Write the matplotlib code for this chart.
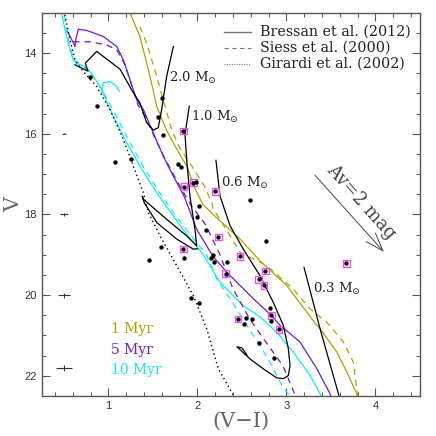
import matplotlib
matplotlib.use("Agg")
from matplotlib import pyplot as plt

# observed stars (V-I, V)
star_vi = [0.789, 0.868, 1.557, 1.598, 1.610, 1.841, 1.077, 1.253, 1.781, 1.815,
           1.849, 1.953, 1.984, 2.200, 2.017, 1.992, 2.590, 2.093, 2.234, 2.765,
           1.590, 1.841, 1.851, 1.459, 2.171, 2.150, 2.188, 2.329, 2.478, 2.317,
           2.762, 2.688, 2.745, 3.672, 1.928, 2.021, 2.453, 2.548, 2.610, 2.523,
           2.815, 2.829, 2.823, 2.914, 2.692, 2.863]
star_v = [14.60, 15.32, 15.58, 15.12, 16.03, 15.93, 16.71, 16.63, 16.74, 16.83,
          17.31, 17.21, 17.19, 17.43, 17.79, 18.06, 17.64, 18.39, 18.56, 18.65,
          18.81, 18.86, 19.08, 19.12, 19.00, 19.09, 19.19, 19.17, 19.04, 19.47,
          19.40, 19.61, 19.76, 19.21, 20.07, 20.19, 20.59, 20.56, 20.58, 20.71,
          20.32, 20.50, 20.64, 20.85, 21.18, 21.55]
# stars flagged with a square (index into the lists above)
flagged = [5, 10, 11, 13, 18, 21, 28, 29, 30, 31, 32, 33, 36, 41, 43]

# typical photometric errors
err_v = [16.0, 18.0, 20.0, 21.8]
err_vi = [0.5, 0.5, 0.5, 0.5]
err_x = [0.025, 0.045, 0.065, 0.09]
err_y = [0.01, 0.03, 0.06, 0.08]

# Bressan et al. (2012) isochrones
b1_vi = [1.22, 1.242, 1.354, 1.467, 1.542, 1.65, 1.76, 1.879, 1.97, 2.06, 2.20,
         2.478, 2.703, 3.003, 3.340, 3.377, 3.565, 3.677, 3.789, 3.81]
b1_v = [12.8, 13.01, 13.59, 14.58, 15.32, 15.90, 16.35, 16.80, 17.35, 17.75, 18.05,
        18.61, 19.15, 19.76, 20.75, 20.83, 21.41, 21.90, 22.44, 22.6]
b5_vi = [0.531, 0.60, 0.624, 0.63, 0.661, 0.756, 0.942, 1.093, 1.167, 1.242, 1.317,
         1.392, 1.504, 1.616, 1.729, 1.85, 1.992, 2.178, 2.329, 2.628, 2.834, 2.928,
         3.152, 3.340, 3.489, 3.51]
b5_v = [13.43, 13.72, 13.84, 13.7, 13.41, 13.44, 13.59, 13.84, 14.17, 14.66, 15.16,
        15.40, 15.98, 16.56, 17.05, 17.55, 18.37, 19.05, 19.43, 20.09, 20.51, 20.75,
        21.16, 21.82, 22.44, 22.6]
b10_vi = [0.46, 0.475, 0.512, 0.568, 0.605, 0.647, 0.725, 0.793, 0.871, 0.924, 1.017,
          1.205, 1.354, 1.542, 1.729, 1.879, 2.06, 2.253, 2.515, 2.703, 2.890, 3.077,
          3.265, 3.377, 3.40]
b10_v = [12.8, 13.01, 13.43, 13.92, 14.17, 14.27, 14.32, 14.46, 14.71, 14.91, 15.40,
         16.22, 16.80, 17.46, 18.04, 18.49, 18.98, 19.68, 20.26, 20.54, 20.92, 21.41,
         21.99, 22.44, 22.6]
b10_hook_vi = [0.924, 0.942, 1.017, 1.093, 1.12]
b10_hook_v = [15.0, 14.74, 14.70, 14.83, 14.95]

# Siess et al. (2000) isochrones
s1_vi = [1.354, 1.430, 1.542, 1.636, 1.71, 1.80, 1.95, 2.08, 2.141, 2.16, 2.178,
         2.253, 2.478, 2.778, 3.077, 3.265, 3.452, 3.639, 3.751, 3.789, 3.807]
s1_v = [13.35, 13.76, 14.58, 15.32, 15.90, 16.35, 16.85, 17.3, 17.62, 17.70, 17.87,
        18.12, 18.94, 19.27, 19.85, 20.34, 20.67, 21.16, 21.66, 22.31, 22.6]
s5_vi = [0.605, 0.793, 0.980, 1.093, 1.186, 1.26, 1.33, 1.42, 1.52, 1.64, 1.76,
         1.92, 2.09, 2.253, 2.40, 2.59, 2.78, 2.96, 3.12]
s5_v = [13.72, 13.72, 13.80, 13.92, 14.29, 14.79, 15.28, 15.6, 16.1, 16.64, 17.13,
        17.75, 18.25, 19.0, 19.85, 20.6, 21.2, 21.75, 22.6]
s10_vi = [0.49, 0.53, 0.58, 0.63, 0.70, 0.78, 0.88, 0.95, 1.06, 1.25, 1.40, 1.57,
          1.76, 1.92, 2.10, 2.216, 2.40, 2.60, 2.80, 2.965, 3.08]
s10_v = [12.8, 13.45, 13.95, 14.2, 14.3, 14.45, 14.75, 15.0, 15.45, 16.25, 16.85, 17.45,
         18.05, 18.5, 19.0, 19.6, 20.2, 20.9, 21.6, 22.31, 22.6]

# Girardi et al. (2002) isochrone
g_vi = [0.51, 0.568, 0.624, 0.699, 0.868, 1.017, 1.167, 1.279, 1.392, 1.448, 1.579,
        1.767, 1.953, 2.104, 2.234, 2.403, 2.43]
g_v = [13.05, 13.67, 14.17, 14.41, 14.83, 15.40, 16.14, 16.80, 17.46, 17.95, 18.53,
       19.27, 20.01, 20.83, 21.82, 22.48, 22.6]

# Bressan mass tracks
t20_vi = [0.624, 0.77, 0.74, 0.868, 1.13, 1.26, 1.354, 1.43, 1.504, 1.56, 1.598,
          1.654, 1.729]
t20_v = [14.29, 14.45, 14.25, 13.96, 14.40, 14.91, 15.24, 15.73, 15.91, 15.85, 15.40,
         14.58, 13.84]
t10_vi = [1.908, 1.86, 1.879, 1.916, 1.972, 1.992, 1.879, 1.654, 1.392, 1.38, 1.40,
          1.542, 1.767, 1.953, 2.0]
t10_v = [15.32, 16.02, 16.64, 17.55, 18.37, 18.78, 18.53, 18.12, 17.62, 17.55, 17.70,
         18.20, 18.61, 18.86, 18.85]
t06_vi = [2.208, 2.253, 2.366, 2.515, 2.703, 2.852, 2.965, 3.021, 3.040, 3.021, 2.965,
          2.890, 2.736, 2.590, 2.444, 2.50, 2.556]
t06_v = [16.66, 17.54, 18.28, 18.86, 19.52, 20.18, 20.75, 21.33, 21.74, 21.99, 22.07,
         22.05, 21.82, 21.58, 21.28, 21.31, 21.48]
t03_vi = [3.197, 3.377, 3.583, 3.60]
t03_v = [19.31, 20.83, 22.44, 22.6]

mass_labels = ["2.0 M$_{\\odot}$", "1.0 M$_{\\odot}$", "0.6 M$_{\\odot}$", "0.3 M$_{\\odot}$"]
mass_label_vi = [1.68, 1.925, 2.26, 3.30]
mass_label_v = [14.61, 15.58, 17.21, 19.85]

age_labels = ["1 Myr", "5 Myr", "10 Myr"]
age_label_v = [20.85, 21.35, 21.85]

# reddening vector: Av = 2 mag
av_start = (3.30, 16.98)
av_end = (4.115, 18.98)

olive = "#aaa500"
purple = "#6a1ccf"
cyan = "#14e8f2"

plt.rcParams["font.family"] = ["DejaVu Serif"]
plt.rcParams["mathtext.fontset"] = "dejavuserif"

fig = plt.figure(figsize=(4.36, 4.36), dpi=100)
ax = fig.add_axes([0.0956, 0.0917, 0.8677, 0.8792])

lw = 0.9
ax.plot(b1_vi, b1_v, color=olive, lw=lw)
ax.plot(b5_vi, b5_v, color=purple, lw=lw)
ax.plot(b10_vi, b10_v, color=cyan, lw=lw)
ax.plot(b10_hook_vi, b10_hook_v, color=cyan, lw=lw)
dash = (0, (5, 4))
ax.plot(s1_vi, s1_v, color=olive, lw=lw, ls=dash)
ax.plot(s5_vi, s5_v, color=purple, lw=lw, ls=dash)
ax.plot(s10_vi, s10_v, color=cyan, lw=lw, ls=dash)
ax.plot(g_vi, g_v, color="black", lw=1.0, ls=(0, (1, 2.2)))

for tvi, tv in [(t20_vi, t20_v), (t10_vi, t10_v), (t06_vi, t06_v), (t03_vi, t03_v)]:
    ax.plot(tvi, tv, color="black", lw=lw)

ax.scatter(star_vi, star_v, s=10, color="black", zorder=5, linewidths=0)
ax.scatter([star_vi[i] for i in flagged], [star_v[i] for i in flagged], s=22,
           marker="s", facecolors="none", edgecolors="#ff44ff", linewidths=0.9, zorder=4)

ax.errorbar(err_vi, err_v, xerr=err_x, yerr=err_y, fmt="none", ecolor="#333333",
            elinewidth=0.8, capsize=0)

for lab, x, y in zip(mass_labels, mass_label_vi, mass_label_v):
    ax.text(x, y, lab, fontsize=9.5, ha="left", va="center", color="#222222")

for lab, y, c in zip(age_labels, age_label_v, [olive, purple, cyan]):
    ax.text(1.03, y, lab, fontsize=10, color=c, ha="left", va="center")

ax.annotate("", xy=av_end, xytext=av_start,
            arrowprops=dict(arrowstyle="->,head_length=1.3,head_width=0.45",
                            color="#444444", lw=0.7))
ax.text(3.84, 17.70, "Av=2 mag", fontsize=13, rotation=-48, ha="center", va="center",
        color="#444444", rotation_mode="anchor")

# legend drawn by hand
leg_styles = ["-", (0, (4, 3)), (0, (1, 1.2))]
leg_labels = ["Bressan et al. (2012)", "Siess et al. (2000)", "Girardi et al. (2002)"]
leg_y = [0.950, 0.908, 0.866]
for st, lab, y in zip(leg_styles, leg_labels, leg_y):
    ax.plot([0.482, 0.553], [y, y], transform=ax.transAxes, color="#777777",
            lw=1.0 if st == "-" else 0.8, ls=st)
    ax.text(0.577, y, lab, transform=ax.transAxes, fontsize=10.3, va="center",
            ha="left", color="#222222")

ax.set_xlim(0.25, 4.5)
ax.set_ylim(22.5, 13.0)
ax.set_xticks([1, 2, 3, 4])
ax.set_xticks([0.4 + 0.2 * i for i in range(21)], minor=True)
ax.set_yticks([14, 16, 18, 20, 22])
ax.set_yticks([13 + 0.5 * i for i in range(20)], minor=True)
ax.tick_params(which="both", direction="in", top=True, right=True, color="#555555",
               labelsize=8, labelcolor="#333333", labelfontfamily="Liberation Sans")
ax.tick_params(which="major", length=6, width=0.8)
ax.tick_params(which="minor", length=3, width=0.7)
for sp in ax.spines.values():
    sp.set_color("#555555")
    sp.set_linewidth(1.0)

ax.set_xlabel("(V\u2212I)", fontsize=15, color="#666666", va="center")
ax.xaxis.set_label_coords(0.527, -0.066)
ax.set_ylabel("V", fontsize=15, color="#666666", labelpad=1)

fig.savefig("out.png", dpi=100)
